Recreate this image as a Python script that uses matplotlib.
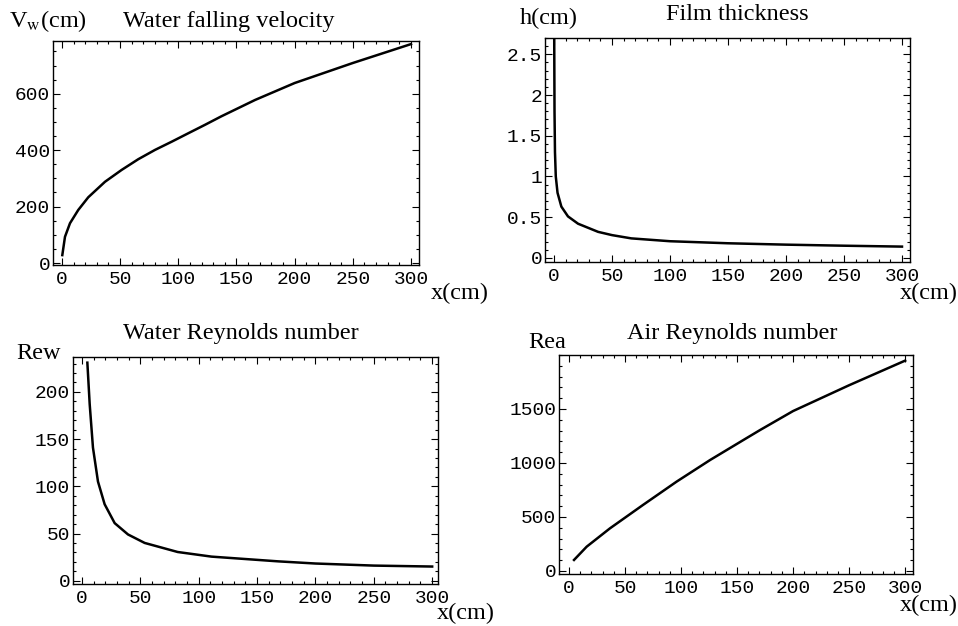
import matplotlib
matplotlib.use("Agg")
import matplotlib.pyplot as plt
from matplotlib.ticker import MultipleLocator

plt.rcParams['mathtext.fontset'] = 'stix'

# values
x_vel = [0.3, 2.6, 6.9, 14, 22.6, 37, 51.3, 65.6, 80, 94.3, 108.6, 123, 137,
         166, 200, 250, 300]
v_w = [28, 93, 141, 188, 233, 288, 330, 368, 401, 430, 460, 490, 520,
       578, 638, 709, 776]

x_h = [0.15, 0.4, 0.8, 1.5, 3, 6.3, 12, 20.7, 38, 50, 66.6, 100, 150, 200,
       250, 300]
h = [2.70, 1.8, 1.3, 1.0, 0.8, 0.63, 0.51, 0.42, 0.32, 0.28, 0.24, 0.205,
     0.18, 0.163, 0.15, 0.139]

x_rew = [4.6, 6.6, 9.4, 13.7, 19.4, 28, 39.4, 53.7, 82, 111, 168, 200, 250,
         300]
re_w = [231, 187, 141, 105, 81, 61, 49, 40, 30.4, 25.5, 20.5, 18.2, 16, 15]

x_rea = [4.5, 15.8, 36.6, 66, 96, 126, 156, 170.5, 200, 250, 300]
re_a = [102, 225, 395, 611, 827, 1028, 1215, 1305, 1481, 1720, 1948]

serif = 'Liberation Serif'
mono = 'Liberation Mono'

fig = plt.figure(figsize=(9.58, 6.26), dpi=100)
W, H = 958.0, 626.0


def box(l, t, r, b):
    # pixel box -> figure fraction
    return [l / W, 1 - b / H, (r - l) / W, (b - t) / H]


def style(ax, xlim, ylim, yticks, ymin):
    ax.set_xlim(*xlim)
    ax.set_ylim(*ylim)
    ax.xaxis.set_major_locator(MultipleLocator(50))
    ax.xaxis.set_minor_locator(MultipleLocator(10))
    ax.set_yticks(yticks)
    ax.yaxis.set_minor_locator(MultipleLocator(ymin))
    ax.tick_params(which='both', direction='in', top=True, right=True,
                   width=0.8, labelsize=14)
    ax.tick_params(axis='x', pad=4)
    ax.tick_params(axis='y', pad=2)
    ax.tick_params(which='major', length=5)
    ax.tick_params(which='minor', length=2.5)
    for s in ax.spines.values():
        s.set_linewidth(1.0)


def ylabels(ax, labels):
    ax.set_yticklabels(labels, family=mono)
    for lab in ax.get_xticklabels():
        lab.set_fontfamily(mono)


def ftext(x, y, s, size=17.5, ha='center'):
    fig.text(x / W, 1 - y / H, s, fontsize=size, family=serif,
             ha=ha, va='center')


# Water falling velocity
ax1 = fig.add_axes(box(53, 41, 419, 265))
ax1.plot(x_vel, v_w, color='black', lw=1.8)
style(ax1, (-7.7, 306.9), (-7, 787), [0, 200, 400, 600], 50)
ylabels(ax1, ['0', '200', '400', '600'])
ftext(229, 22, 'Water falling velocity')
ftext(9, 21, r'V$_{\mathrm{w}}$(cm)', ha='left')
ftext(431, 293, 'x(cm)', ha='left')

# Film thickness
ax2 = fig.add_axes(box(545, 38, 910, 262))
ax2.plot(x_h, h, color='black', lw=1.8)
style(ax2, (-7.8, 306.9), (-0.05, 2.70), [0, 0.5, 1, 1.5, 2, 2.5], 0.1)
ylabels(ax2, ['0', '0.5', '1', '1.5', '2', '2.5'])
ftext(737, 15, 'Film thickness')
ftext(520, 18, 'h(cm)', ha='left')
ftext(900, 293, 'x(cm)', ha='left')

# Water Reynolds number
ax3 = fig.add_axes(box(73, 357, 438, 584))
ax3.plot(x_rew, re_w, color='black', lw=1.8)
style(ax3, (-7.7, 305), (-3.5, 237), [0, 50, 100, 150, 200], 10)
ylabels(ax3, ['0', '50', '100', '150', '200'])
ftext(241, 333, 'Water Reynolds number')
ftext(16, 353, 'Rew', ha='left')
ftext(437, 613, 'x(cm)', ha='left')

# Air Reynolds number
ax4 = fig.add_axes(box(559, 355, 913, 574))
ax4.plot(x_rea, re_a, color='black', lw=1.8)
style(ax4, (-8.9, 307), (-28, 2000), [0, 500, 1000, 1500], 100)
ylabels(ax4, ['0', '500', '1000', '1500'])
ftext(732, 333, 'Air Reynolds number')
ftext(528, 342, 'Rea', ha='left')
ftext(900, 605, 'x(cm)', ha='left')

fig.savefig('out.png', dpi=100)
